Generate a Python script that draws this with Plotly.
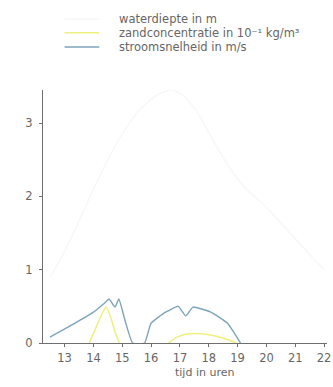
import plotly.graph_objects as go

# Tijd in uren en gemeten grootheden
depth_t = [12.5, 13.0, 13.6, 14.0, 14.5, 15.0, 15.6, 16.2, 16.7, 17.1, 17.6, 18.1, 18.65, 19.3, 20.0, 20.7, 21.4, 22.0]
depth_v = [0.9, 1.25, 1.75, 2.1, 2.5, 2.85, 3.18, 3.38, 3.45, 3.38, 3.15, 2.8, 2.43, 2.1, 1.85, 1.55, 1.25, 1.0]

sand_t = [13.85, 14.1, 14.3, 14.44, 14.6, 14.75, 14.9, None, 16.6, 16.9, 17.2, 17.5, 17.9, 18.3, 18.7, 18.95]
sand_v = [0.0, 0.22, 0.4, 0.49, 0.35, 0.15, 0.0, None, 0.0, 0.08, 0.12, 0.13, 0.12, 0.09, 0.04, 0.0]

flow_t = [12.49, 13.27, 13.96, 14.4, 14.54, 14.75, 14.88, 15.1, 15.36, 15.77, 16.0, 16.5, 16.94, 17.2, 17.45, 18.07, 18.65, 19.1]
flow_v = [0.08, 0.25, 0.41, 0.55, 0.6, 0.49, 0.6, 0.3, 0.0, 0.0, 0.27, 0.42, 0.5, 0.37, 0.49, 0.42, 0.27, 0.0]

x_ticks = list(range(13, 23))
y_ticks = [0, 1, 2, 3]

names = ["waterdiepte in m", "zandconcentratie in 10⁻¹ kg/m³", "stroomsnelheid in m/s"]
colors = ["#f6f6f6", "#eef07e", "#7ea3ba"]

FONT = "DejaVu Sans"
TXT = "#666666"
AX = "#6e6e6e"

fig = go.Figure()
fig.add_trace(go.Scatter(x=depth_t, y=depth_v, mode="lines", name=names[0],
                         line=dict(color=colors[0], width=1.2, shape="spline", smoothing=0.6)))
fig.add_trace(go.Scatter(x=sand_t, y=sand_v, mode="lines", name=names[1],
                         line=dict(color=colors[1], width=1.5, shape="spline", smoothing=0.4),
                         connectgaps=False))
fig.add_trace(go.Scatter(x=flow_t, y=flow_v, mode="lines", name=names[2],
                         line=dict(color=colors[2], width=1.4, shape="spline", smoothing=0.4)))

# Legend drawn as line samples with labels above the plot area
rows_y = [1.281, 1.226, 1.170]
for name, col, ry in zip(names, colors, rows_y):
    fig.add_shape(type="line", xref="paper", yref="paper", x0=0.076, x1=0.198, y0=ry, y1=ry,
                  line=dict(color=col, width=1.5))
    fig.add_annotation(xref="paper", yref="paper", x=0.26, y=ry, text=name, showarrow=False,
                       xanchor="left", yanchor="middle",
                       font=dict(family=FONT, size=11.5, color=TXT))

fig.add_annotation(xref="paper", yref="paper", x=0.57, y=-0.118, text="tijd in uren",
                   showarrow=False, xanchor="center", yanchor="middle",
                   font=dict(family=FONT, size=11, color=TXT))

fig.update_layout(
    width=333, height=387,
    margin=dict(l=43, r=2, t=90, b=44),
    paper_bgcolor="white", plot_bgcolor="white",
    font=dict(family=FONT, size=11, color=TXT),
    showlegend=False,
    xaxis=dict(range=[12.25, 22.1], tickvals=x_ticks, ticks="outside", ticklen=3,
               tickcolor=AX, showline=True, linecolor=AX, linewidth=1,
               showgrid=False, zeroline=False, ticklabeloverflow="allow",
               ticklabelstandoff=1, tickfont=dict(size=11.5)),
    yaxis=dict(range=[0, 3.45], tickvals=y_ticks, ticks="outside", ticklen=3,
               tickcolor=AX, showline=True, linecolor=AX, linewidth=1,
               showgrid=False, zeroline=False, ticklabelstandoff=4,
               tickfont=dict(size=11.5)),
)

fig.write_html("out.html")
